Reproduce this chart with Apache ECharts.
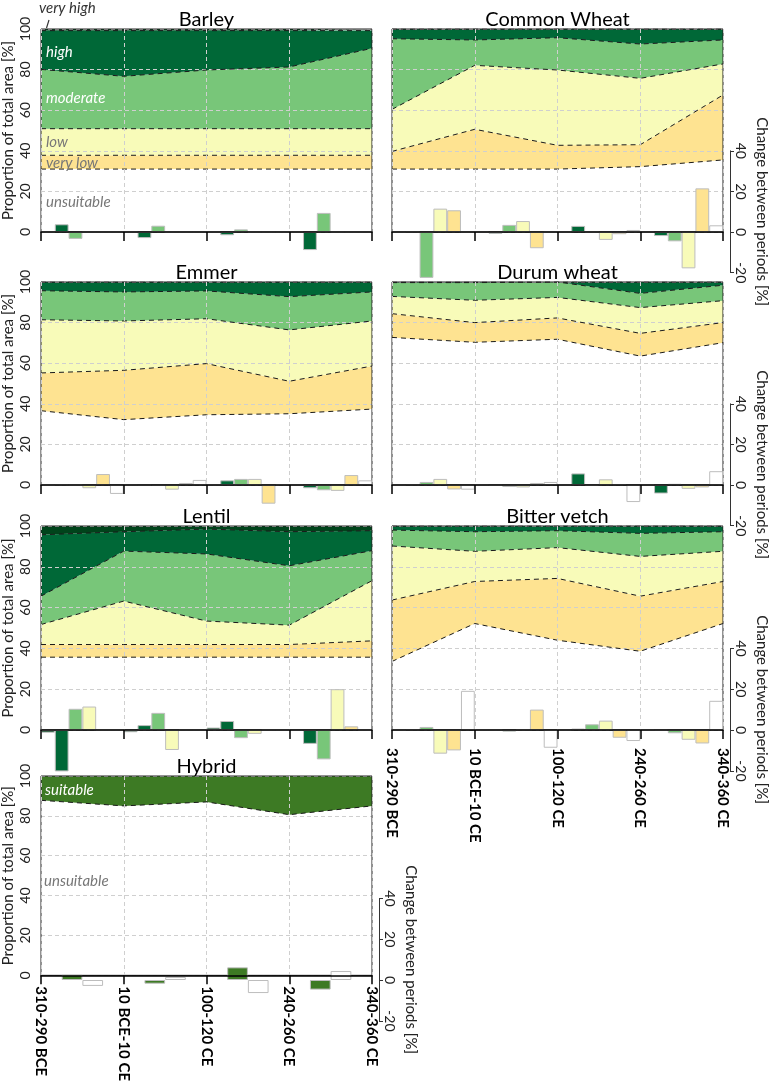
<!DOCTYPE html>
<html>
<head>
<meta charset="utf-8">
<script src="https://cdn.jsdelivr.net/npm/echarts@6/dist/echarts.min.js"></script>
<style>
  html, body { margin: 0; padding: 0; background: #fff; }
  #main { width: 770px; height: 1084px; }
</style>
</head>
<body>
<div id="main"></div>
<script>
// periods on the x axis, and the four steps between them
const periods = ['310-290 BCE', '10 BCE-10 CE', '100-120 CE', '240-260 CE', '340-360 CE'];
const steps = ['310-290 BCE / 10 BCE-10 CE', '10 BCE-10 CE / 100-120 CE', '100-120 CE / 240-260 CE', '240-260 CE / 340-360 CE'];

// suitability classes, bottom of the stack first
const classes = ['unsuitable', 'very low', 'low', 'moderate', 'high', 'very high'];
const hybridClasses = ['unsuitable', 'suitable'];
const shareTicks = [0, 20, 40, 60, 80, 100];
const changeTicks = [-20, 0, 20, 40];

// share of total area [%] per class (rows follow `classes`)
const barleyShare = [
    [31.0, 31.0, 31.0, 31.0, 31.0],
    [6.8, 6.8, 6.8, 6.8, 6.8],
    [13.1, 13.1, 13.1, 13.1, 13.1],
    [29.2, 25.8, 28.9, 30.4, 39.6],
    [19.1, 22.5, 19.4, 17.9, 8.7],
    [0.8, 0.8, 0.8, 0.8, 0.8]
]
const wheatShare = [
    [31.0, 31.0, 31.0, 32.2, 35.5],
    [8.7, 19.6, 11.7, 10.8, 32.0],
    [20.7, 31.5, 37.1, 32.7, 15.3],
    [34.8, 12.5, 15.9, 16.9, 11.8],
    [4.8, 5.4, 4.3, 7.4, 5.4],
    [0, 0, 0, 0, 0]
]
const emmerShare = [
    [36.6, 32.2, 34.6, 35.1, 37.4],
    [18.6, 24.3, 25.2, 16.0, 21.2],
    [26.2, 24.3, 22.1, 25.3, 22.2],
    [14.3, 14.3, 13.7, 16.4, 14.3],
    [4.3, 4.9, 4.4, 7.2, 4.9],
    [0, 0, 0, 0, 0]
]
const durumShare = [
    [72.7, 70.3, 71.8, 63.5, 70.1],
    [11.7, 9.7, 10.5, 11.2, 9.9],
    [8.5, 11.0, 10.1, 12.7, 10.8],
    [6.8, 8.7, 7.6, 7.0, 7.6],
    [0.3, 0.3, 0, 5.6, 1.6],
    [0, 0, 0, 0, 0]
]
const lentilShare = [
    [35.7, 35.7, 35.7, 35.7, 35.7],
    [6.2, 6.2, 6.2, 6.2, 8.0],
    [9.8, 21.3, 11.5, 9.5, 29.5],
    [13.9, 24.5, 32.9, 29.1, 14.7],
    [30.1, 9.5, 12.2, 16.7, 9.8],
    [4.3, 2.8, 1.5, 2.8, 2.3]
]
const vetchShare = [
    [33.6, 52.2, 44.0, 38.6, 52.2],
    [30.1, 20.6, 30.3, 27.0, 20.6],
    [26.5, 14.8, 15.1, 19.5, 14.8],
    [7.8, 9.6, 8.3, 11.3, 9.6],
    [2.0, 2.8, 2.3, 3.6, 2.8],
    [0, 0, 0, 0, 0]
]
const hybridShare = [
    [87.8, 85.0, 87.0, 80.6, 85.0],
    [12.2, 15.0, 13.0, 19.4, 15.0]
]

// change between periods [%] per class (rows follow `classes`)
const barleyChange = [
    [0, 0, 0, 0],
    [0, 0, 0, 0],
    [0, 0, 0, 0],
    [-3.4, 3.1, 1.3, 9.4],
    [3.8, -3.0, -1.6, -8.9],
    [0, 0, 0, 0]
]
const wheatChange = [
    [0, 0, 1.0, 3.3],
    [10.7, -8.0, -1.1, 21.5],
    [11.5, 5.4, -3.9, -17.9],
    [-22.6, 3.5, 0, -4.6],
    [0.2, -0.9, 3.0, -2.0],
    [0, 0, 0, 0]
]
const emmerChange = [
    [-4.4, 2.5, 0.4, 2.3],
    [5.4, 1.0, -9.2, 4.9],
    [-1.6, -2.3, 3.0, -2.9],
    [0, -0.5, 3.0, -2.6],
    [0.3, -0.3, 2.3, -1.6],
    [0, 0, 0.2, 0]
]
const durumChange = [
    [-2.3, 1.5, -8.4, 6.8],
    [-2.2, 1.0, 0.5, -1.2],
    [3.0, -1.2, 2.8, -1.9],
    [1.5, -1.0, -0.4, 0.6],
    [0.3, -0.4, 5.7, -4.2],
    [0, 0, 0, 0]
]
const lentilChange = [
    [0, 0, 0, 0],
    [0, 0, 0, 1.8],
    [11.5, -9.8, -1.9, 20.0],
    [10.4, 8.4, -4.0, -14.4],
    [-20.3, 2.4, 4.4, -6.8],
    [-1.3, -1.1, 1.2, -0.5]
]
const vetchChange = [
    [19.2, -8.7, -5.4, 14.3],
    [-10.0, 10.0, -3.8, -6.6],
    [-11.6, 0.2, 4.6, -4.8],
    [1.5, -0.8, 2.8, -1.6],
    [0.3, 0, 0.7, -0.3],
    [0, 0, 0, 0]
]
const hybridChange = [
    [-2.9, 1.5, -6.4, 4.4],
    [2.6, -1.8, 6.2, -4.7]
]

const classColors = ['#ffffff', '#fee391', '#f8fbb9', '#78c679', '#006837', '#00441b']
const hybridColors = ['#ffffff', '#3d7a24']

// panel layout
const colLeft = [41, 392]
const rowTop = [29, 282, 526, 776]
const rowH = [203, 203, 204, 204]
const plotW = 331

const panels = [
    {name: 'Barley', share: barleyShare, change: barleyChange, col: 0, row: 0},
    {name: 'Common Wheat', share: wheatShare, change: wheatChange, col: 1, row: 0},
    {name: 'Emmer', share: emmerShare, change: emmerChange, col: 0, row: 1},
    {name: 'Durum wheat', share: durumShare, change: durumChange, col: 1, row: 1},
    {name: 'Lentil', share: lentilShare, change: lentilChange, col: 0, row: 2},
    {name: 'Bitter vetch', share: vetchShare, change: vetchChange, col: 1, row: 2, xLabels: true, labelMargin: 18},
    {name: 'Hybrid', share: hybridShare, change: hybridChange, col: 0, row: 3, xLabels: true, labelMargin: 11, hybrid: true}
]

const font = 'Lato, "Open Sans", sans-serif'
const gridDash = {type: [4, 3], color: '#cfcfcf', width: 1}

let grid = [], xAxis = [], yAxis = [], series = [], graphic = []

panels.forEach((p, i) => {
    const left = colLeft[p.col], top = rowTop[p.row], h = rowH[p.row]
    const names = p.hybrid ? hybridClasses : classes
    const colors = p.hybrid ? hybridColors : classColors
    const showRight = p.col === 1 || p.hybrid
    const a = 2 * i, b = 2 * i + 1

    // area grid (0..100) and change grid (-20..40), sharing the zero line
    grid.push({left: left, top: top, width: plotW, height: h, show: true,
        borderColor: '#222', borderWidth: 1, backgroundColor: 'rgba(0,0,0,0)', z: 8})
    grid.push({left: left, top: top + 0.6 * h, width: plotW, height: 0.6 * h, show: false})

    xAxis.push({
        gridIndex: a, type: 'category', boundaryGap: false, data: periods, z: 12,
        axisLine: {lineStyle: {color: '#000', width: 1.5}},
        axisTick: {show: true, interval: 0, length: 9, lineStyle: {color: '#000', width: 1.5}},
        axisLabel: {show: !!p.xLabels, interval: 0, rotate: -90, margin: p.labelMargin || 8,
            fontWeight: 'bold', fontSize: 15, color: '#000', fontFamily: font},
        splitLine: {show: true, interval: 0, lineStyle: gridDash}
    })
    xAxis.push({gridIndex: b, type: 'category', data: steps, show: false})

    yAxis.push({
        gridIndex: a, type: 'value', min: shareTicks[0], max: shareTicks[shareTicks.length - 1], interval: 20, z: 5,
        axisLine: {show: false}, axisTick: {show: false},
        axisLabel: {show: p.col === 0, rotate: 90, margin: 9, fontSize: 14, color: '#222', fontFamily: font},
        splitLine: {show: true, lineStyle: gridDash},
        name: p.col === 0 ? 'Proportion of total area [%]' : '',
        nameLocation: 'middle', nameGap: 25,
        nameTextStyle: {fontSize: 15, color: '#222', fontFamily: font}
    })
    yAxis.push({
        gridIndex: b, type: 'value', min: changeTicks[0], max: changeTicks[changeTicks.length - 1], interval: 20,
        position: 'right', offset: 7, show: showRight,
        axisLine: {show: true, lineStyle: {color: '#333', width: 1}},
        axisTick: {show: true, length: 4, lineStyle: {color: '#333'}},
        axisLabel: {rotate: -90, margin: 4, fontSize: 14, color: '#222', fontFamily: font},
        splitLine: {show: false},
        name: 'Change between periods [%]', nameLocation: 'middle', nameRotate: -90, nameGap: 24,
        nameTextStyle: {fontSize: 15, color: '#222', fontFamily: font}
    })

    // stacked filled areas
    p.share.forEach((vals, k) => {
        series.push({
            type: 'line', name: names[k], xAxisIndex: a, yAxisIndex: a, stack: 'fill' + i,
            data: vals, symbol: 'none', silent: true, z: 1,
            lineStyle: {opacity: 0, width: 0},
            areaStyle: {color: colors[k], opacity: 1}
        })
    })
    // dashed class boundaries
    p.share.slice(0, -1).forEach((vals, k) => {
        series.push({
            type: 'line', xAxisIndex: a, yAxisIndex: a, stack: 'edge' + i,
            data: vals, symbol: 'none', silent: true, z: 6,
            lineStyle: {color: '#1a1a1a', width: 1, type: [5, 4]}
        })
    })
    // change bars, highest class first
    for (let k = p.change.length - 1; k >= 0; k--) {
        series.push({
            type: 'bar', name: names[k], xAxisIndex: b, yAxisIndex: b, data: p.change[k],
            barGap: '0%', barCategoryGap: p.hybrid ? '50%' : '0%', clip: false, z: 10, silent: true,
            itemStyle: {color: colors[k], borderColor: '#bdbdbd', borderWidth: 1}
        })
    }

    graphic.push({type: 'text', x: left + plotW / 2, y: top + 1, z: 100,
        style: {text: p.name, fill: '#000', font: '20px ' + font, textAlign: 'center', textVerticalAlign: 'bottom'}})
})

// class annotations
function note(text, x, y, fill) {
    graphic.push({type: 'text', x: x, y: y, z: 100,
        style: {text: text, fill: fill, font: 'italic 15px ' + font, textAlign: 'left', textVerticalAlign: 'middle'}})
}
note('very high', 39, 8, '#333')
graphic.push({type: 'line', z: 100, shape: {x1: 49, y1: 20, x2: 46.5, y2: 28}, style: {stroke: '#333', lineWidth: 1.2}})
note('high', 46, 52, '#fff')
note('moderate', 46, 98, '#fff')
note('low', 46, 142, '#777')
note('very low', 46, 163, '#777')
note('unsuitable', 46, 202, '#777')
note('suitable', 45, 790, '#fff')
note('unsuitable', 44, 881, '#777')

const chart = echarts.init(document.getElementById('main'))
chart.setOption({
    animation: false,
    backgroundColor: '#fff',
    textStyle: {fontFamily: font},
    grid: grid,
    xAxis: xAxis,
    yAxis: yAxis,
    series: series,
    graphic: graphic
})
</script>
</body>
</html>
